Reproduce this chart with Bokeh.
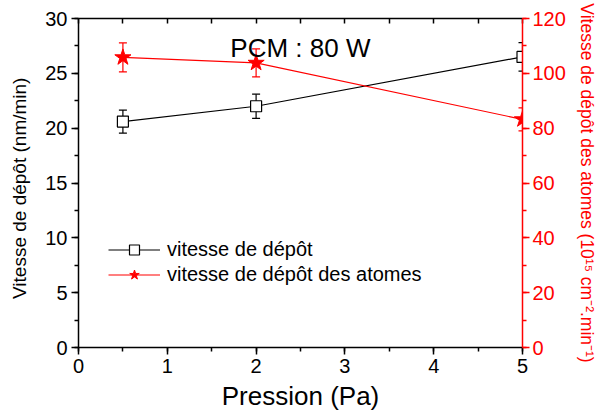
from bokeh.plotting import figure
from bokeh.models import (Range1d, LinearAxis, Whisker, ColumnDataSource, Legend,
                          LegendItem, Label, SingleIntervalTicker, TeeHead)
from bokeh.embed import file_html
from bokeh.resources import INLINE

# ---- data ----
pressure = [0.5, 2.0, 5.0]
rate = [20.6, 22.0, 26.5]
rate_err = [1.05, 1.1, 1.3]
atom_rate = [105.8, 103.8, 83.2]
atom_err = [5.3, 5.1, 4.2]

x_ticks_interval = 1
left_ticks_interval = 5
right_ticks_interval = 20

FONT = "Liberation Sans"
RED = "#ff0000"
NB = "\u00a0"

src_rate = ColumnDataSource(dict(
    x=pressure, y=rate,
    lo=[v - e for v, e in zip(rate, rate_err)],
    hi=[v + e for v, e in zip(rate, rate_err)]))
src_atom = ColumnDataSource(dict(
    x=pressure, y=atom_rate,
    lo=[v - e for v, e in zip(atom_rate, atom_err)],
    hi=[v + e for v, e in zip(atom_rate, atom_err)]))

p = figure(width=599, height=415, output_backend="svg", toolbar_location=None,
           x_range=Range1d(0, 5), y_range=Range1d(0, 30),
           min_border_left=78, min_border_right=77, min_border_top=18, min_border_bottom=68)
p.extra_y_ranges = {"right": Range1d(0, 120)}
p.outline_line_color = None
p.xgrid.visible = False
p.ygrid.visible = False
p.background_fill_color = "white"

# bottom axis
xa = p.xaxis[0]
xa.ticker = SingleIntervalTicker(interval=x_ticks_interval, num_minor_ticks=2)
xa.axis_label = "Pression (Pa)"
# left axis
ya = p.yaxis[0]
ya.ticker = SingleIntervalTicker(interval=left_ticks_interval, num_minor_ticks=2)
ya.axis_label = "Vitesse de dépôt (nm/min)" + NB * 2

for ax in (xa, ya):
    ax.axis_line_width = 1.5
    ax.axis_line_color = "black"
    ax.major_tick_line_width = 1.5
    ax.minor_tick_line_width = 1.5
    ax.major_tick_out = 7
    ax.major_tick_in = 0
    ax.minor_tick_out = 4
    ax.minor_tick_in = 0
    ax.major_label_text_font = FONT
    ax.major_label_text_font_size = "20px"
    ax.major_label_text_color = "black"
    ax.axis_label_text_font = FONT
    ax.axis_label_text_font_style = "normal"
    ax.axis_label_text_color = "black"
    ax.major_label_standoff = 4

xa.axis_label_text_font_size = "26px"
xa.axis_label_standoff = 5
ya.axis_label_text_font_size = "19px"
ya.axis_label_standoff = 12

# right axis
ra = LinearAxis(y_range_name="right",
                ticker=SingleIntervalTicker(interval=right_ticks_interval, num_minor_ticks=2),
                axis_label="Vitesse de dépôt des atomes (10¹⁵ cm⁻².min⁻¹)")
ra.axis_line_color = RED
ra.axis_line_width = 1.5
ra.major_tick_line_color = RED
ra.minor_tick_line_color = RED
ra.major_tick_line_width = 1.5
ra.minor_tick_line_width = 1.5
ra.major_tick_out = 7
ra.major_tick_in = 0
ra.minor_tick_out = 4
ra.minor_tick_in = 0
ra.major_label_text_font = FONT
ra.major_label_text_font_size = "20px"
ra.major_label_text_color = RED
ra.major_label_standoff = 3
ra.axis_label_text_font = FONT
ra.axis_label_text_font_style = "normal"
ra.axis_label_text_font_size = "17.5px"
ra.axis_label_text_color = RED
ra.axis_label_standoff = 8
p.add_layout(ra, "right")

# top axis (ticks inward, no labels)
ta = LinearAxis(ticker=SingleIntervalTicker(interval=0.5, num_minor_ticks=0))
ta.axis_line_color = "black"
ta.axis_line_width = 1.5
ta.major_tick_line_width = 1.5
ta.major_tick_in = 5
ta.major_tick_out = 0
ta.minor_tick_line_color = None
ta.major_label_text_font_size = "0px"
ta.major_label_text_alpha = 0
p.add_layout(ta, "above")

# series 1: black squares
p.add_layout(Whisker(source=src_rate, base="x", lower="lo", upper="hi",
                     line_color="black", line_width=1.2,
                     upper_head=TeeHead(size=8, line_color="black", line_width=1.2),
                     lower_head=TeeHead(size=8, line_color="black", line_width=1.2)))
l1 = p.line("x", "y", source=src_rate, line_color="black", line_width=1.2)
s1 = p.scatter("x", "y", source=src_rate, marker="square", size=11,
               fill_color="white", line_color="black", line_width=1.2)

# series 2: red stars
p.add_layout(Whisker(source=src_atom, base="x", lower="lo", upper="hi",
                     y_range_name="right", line_color=RED, line_width=1.2,
                     upper_head=TeeHead(size=8, line_color=RED, line_width=1.2),
                     lower_head=TeeHead(size=8, line_color=RED, line_width=1.2)))
l2 = p.line("x", "y", source=src_atom, y_range_name="right", line_color=RED, line_width=1.2)
s2 = p.scatter("x", "y", source=src_atom, y_range_name="right", marker="star", size=17,
               fill_color=RED, line_color=RED)

legend = Legend(items=[LegendItem(label="vitesse de dépôt", renderers=[l1, s1]),
                       LegendItem(label="vitesse de dépôt des atomes", renderers=[l2, s2])],
                location=(30, 60), orientation="vertical",
                glyph_width=52, glyph_height=25, label_standoff=7, spacing=0,
                padding=0, margin=0,
                border_line_alpha=0, background_fill_alpha=0,
                label_text_font=FONT, label_text_font_size="20px", label_text_color="black")
p.add_layout(legend)

p.add_layout(Label(x=1.71, y=27.35, text="PCM : 80 W", text_font=FONT,
                   text_font_size="26px", text_color="black", text_baseline="alphabetic"))

open("out.html", "w").write(file_html(p, INLINE))
